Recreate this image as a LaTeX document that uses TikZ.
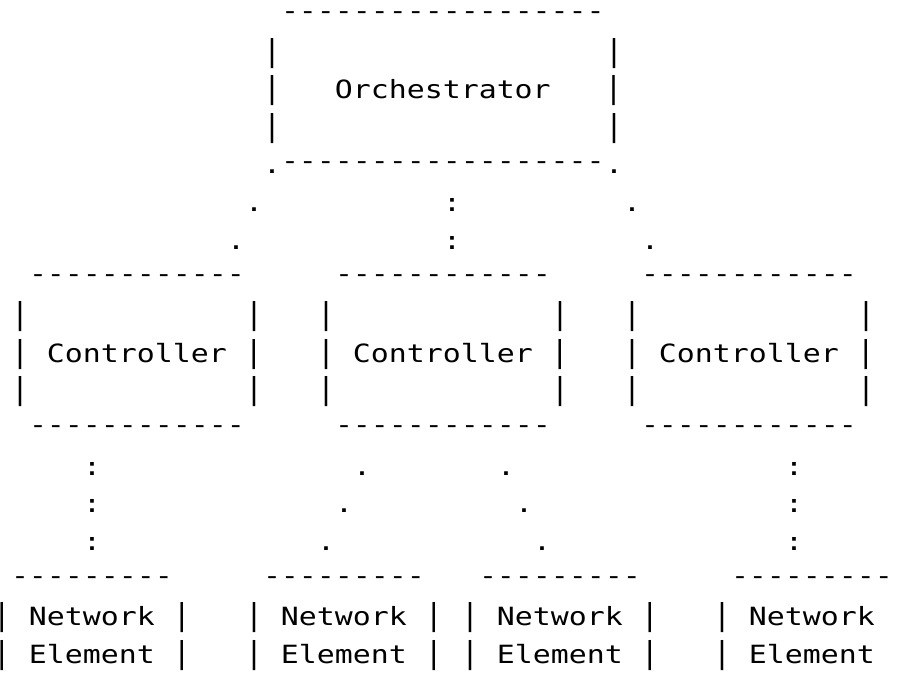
\documentclass[tikz,border=0pt]{standalone}
\usepackage{fontspec}
\newfontfamily\asciifont[FakeStretch=1.19]{DejaVu Sans Mono}
\newcommand\asciibar{\scalebox{1}[1.2]{|}}

\tikzset{
  ch/.style={anchor=base west, inner sep=0pt, outer sep=0pt,
    font=\asciifont\fontsize{25.1pt}{30pt}\selectfont,
    xshift=-7pt, yshift=14.25pt},
  rule/.style={ch, yshift=4pt}
}

\begin{document}
\begin{tikzpicture}[x=18pt, y=-37.65pt]

        \path[use as bounding box, fill=white] (0pt,0pt) rectangle (899pt,-692pt);

        % orchestrator
        \node[rule] (orchTop) at (16,1) {------------------};
        \node[ch] (orchL2) at (15,2) {\asciibar};
        \node[ch] (orchR2) at (34,2) {\asciibar};
        \node[ch] (orch) at (15,3) {\asciibar\ \ \ Orchestrator\ \ \ \asciibar};
        \node[ch] (orchL4) at (15,4) {\asciibar};
        \node[ch] (orchR4) at (34,4) {\asciibar};
        \node[ch] (orchDotL) at (15,5) {.};
        \node[rule] (orchBot) at (16,5) {------------------};
        \node[ch] (orchDotR) at (34,5) {.};

        % orchestrator to controllers
        \node[ch] (upA6) at (14,6) {.};
        \node[ch] (upB6) at (25,6) {:};
        \node[ch] (upC6) at (35,6) {.};
        \node[ch] (upA7) at (13,7) {.};
        \node[ch] (upB7) at (25,7) {:};
        \node[ch] (upC7) at (36,7) {.};

        % controllers
        \node[rule] (ctlATop) at (2,8) {------------};
        \node[rule] (ctlBTop) at (19,8) {------------};
        \node[rule] (ctlCTop) at (36,8) {------------};
        \node[ch] (ctlAL9) at (1,9) {\asciibar};
        \node[ch] (ctlAR9) at (14,9) {\asciibar};
        \node[ch] (ctlBL9) at (18,9) {\asciibar};
        \node[ch] (ctlBR9) at (31,9) {\asciibar};
        \node[ch] (ctlCL9) at (35,9) {\asciibar};
        \node[ch] (ctlCR9) at (48,9) {\asciibar};
        \node[ch] (ctlA) at (1,10) {\asciibar\ Controller\ \asciibar};
        \node[ch] (ctlB) at (18,10) {\asciibar\ Controller\ \asciibar};
        \node[ch] (ctlC) at (35,10) {\asciibar\ Controller\ \asciibar};
        \node[ch] (ctlAL11) at (1,11) {\asciibar};
        \node[ch] (ctlAR11) at (14,11) {\asciibar};
        \node[ch] (ctlBL11) at (18,11) {\asciibar};
        \node[ch] (ctlBR11) at (31,11) {\asciibar};
        \node[ch] (ctlCL11) at (35,11) {\asciibar};
        \node[ch] (ctlCR11) at (48,11) {\asciibar};
        \node[rule] (ctlABot) at (2,12) {------------};
        \node[rule] (ctlBBot) at (19,12) {------------};
        \node[rule] (ctlCBot) at (36,12) {------------};

        % controllers to network elements
        \node[ch] (downA13) at (5,13) {:};
        \node[ch] (downA14) at (5,14) {:};
        \node[ch] (downA15) at (5,15) {:};
        \node[ch] (downB13) at (20,13) {.};
        \node[ch] (downB14) at (19,14) {.};
        \node[ch] (downB15) at (18,15) {.};
        \node[ch] (downC13) at (28,13) {.};
        \node[ch] (downC14) at (29,14) {.};
        \node[ch] (downC15) at (30,15) {.};
        \node[ch] (downD13) at (44,13) {:};
        \node[ch] (downD14) at (44,14) {:};
        \node[ch] (downD15) at (44,15) {:};

        % network elements
        \node[rule] (neATop) at (1,16) {---------};
        \node[rule] (neBTop) at (15,16) {---------};
        \node[rule] (neCTop) at (27,16) {---------};
        \node[rule] (neDTop) at (41,16) {---------};
        \node[ch] (neA) at (0,17) {\asciibar\ Network\ \asciibar};
        \node[ch] (neB) at (14,17) {\asciibar\ Network\ \asciibar};
        \node[ch] (neC) at (26,17) {\asciibar\ Network\ \asciibar};
        \node[ch] (neD) at (40,17) {\asciibar\ Network};
        \node[ch] (neAel) at (0,18) {\asciibar\ Element\ \asciibar};
        \node[ch] (neBel) at (14,18) {\asciibar\ Element\ \asciibar};
        \node[ch] (neCel) at (26,18) {\asciibar\ Element\ \asciibar};
        \node[ch] (neDel) at (40,18) {\asciibar\ Element};

\end{tikzpicture}
\end{document}
